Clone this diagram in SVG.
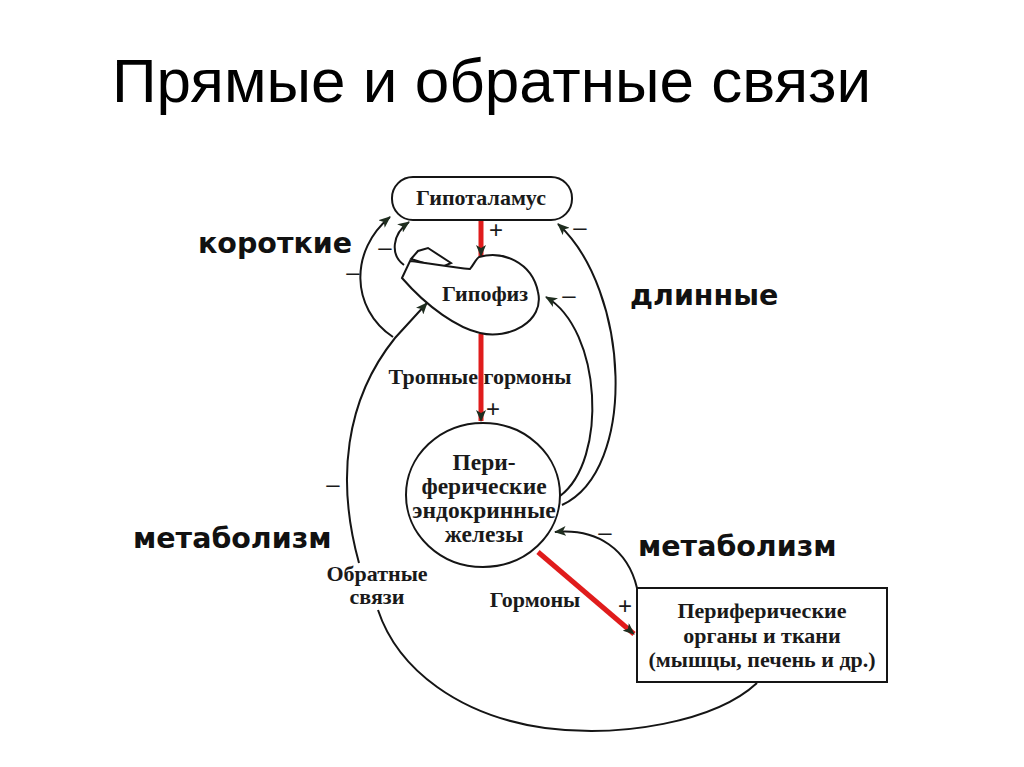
<svg xmlns="http://www.w3.org/2000/svg" width="1024" height="767" viewBox="0 0 1024 767">
<defs>
<marker id="ah" viewBox="0 0 12 10" refX="11" refY="5" markerWidth="12" markerHeight="10" markerUnits="userSpaceOnUse" orient="auto">
<path d="M0,0 L12,5 L0,10 L3,5 Z" fill="#1f2d1f"/>
</marker>
<style>
.title{font-family:"Liberation Sans",Arial,sans-serif;font-size:62px;fill:#000}
.lbl{font-family:"DejaVu Sans",Verdana,sans-serif;font-weight:bold;font-size:28.5px;fill:#111}
.node{font-family:"Liberation Serif","Times New Roman",serif;font-weight:bold;font-size:22px;fill:#1a1a1a;text-anchor:middle}
.big{font-size:23.5px}
.sign{font-family:"Liberation Sans",Arial,sans-serif;font-size:24px;fill:#1a1a1a;text-anchor:middle}
.ln{fill:none;stroke:#151515;stroke-width:2}
.red{fill:none;stroke:#e01c1c;stroke-width:5}
.shape{fill:#fff;stroke:#151515;stroke-width:2}
</style>
</defs>
<rect width="1024" height="767" fill="#fff"/>
<text class="title" x="112" y="102">Прямые и обратные связи</text>

<g id="connectors">
<path class="red" d="M481,221 L481,256" marker-end="url(#ah)"/>
<path class="red" d="M481,334 L481,421" marker-end="url(#ah)"/>
<path class="red" d="M538,552 L634,634" marker-end="url(#ah)"/>
<path class="ln" d="M404,265 C390,255 392,234 409,222" marker-end="url(#ah)"/>
<path class="ln" d="M393,337 C350,308 350,250 390,217" marker-end="url(#ah)"/>
<path class="ln" d="M562,505 C638,470 630,290 558,224" marker-end="url(#ah)"/>
<path class="ln" d="M560,496 C608,460 602,330 546,297" marker-end="url(#ah)"/>
<path class="ln" d="M637,588 C628,550 598,528 555,532" marker-end="url(#ah)"/>
<path class="ln" d="M757,683 C715,722 620,738 545,728 C460,716 398,670 378,610"/>
<path class="ln" d="M359,563 C336,480 345,400 395,338 L427,303" marker-end="url(#ah)"/>
</g>

<g id="signs">
<text class="sign" x="496" y="238">+</text>
<text class="sign" x="493" y="417">+</text>
<text class="sign" x="625" y="614">+</text>
<text class="sign" x="385" y="255">–</text>
<text class="sign" x="353" y="280">–</text>
<text class="sign" x="580" y="235">–</text>
<text class="sign" x="569" y="303">–</text>
<text class="sign" x="333" y="492">–</text>
<text class="sign" x="605" y="540">–</text>
</g>

<g id="hypothalamus">
<rect class="shape" x="392" y="177" width="180" height="43" rx="21"/>
<text class="node" x="481" y="205">Гипоталамус</text>
</g>

<g id="hypophysis">
<path class="shape" d="M411,259 L418,251 L428,248 L451,263 L440,268 Z"/>
<path class="shape" d="M402,278 L410,261 C430,263 452,268 470,269 C474,264 476,259 479,257 C502,250 532,262 538,292 C545,322 508,340 480,333 C458,328 428,308 402,278 Z"/>
<text class="node" x="485" y="301">Гипофиз</text>
</g>

<g id="tropic-label">
<text class="node" x="480" y="384">Тропные гормоны</text>
</g>

<g id="glands">
<ellipse class="shape" cx="483" cy="495" rx="77" ry="72"/>
<text class="node big" x="484" y="470">Пери-</text>
<text class="node big" x="484" y="494">ферические</text>
<text class="node big" x="484" y="518">эндокринные</text>
<text class="node big" x="484" y="542">железы</text>
</g>

<g id="organs">
<rect class="shape" x="637" y="588" width="250" height="94"/>
<text class="node" x="762" y="618">Периферические</text>
<text class="node" x="762" y="643">органы и ткани</text>
<text class="node" x="762" y="667">(мышцы, печень и др.)</text>
</g>

<g id="labels">
<text class="lbl" x="198" y="253">короткие</text>
<text class="lbl" x="630" y="305">длинные</text>
<text class="lbl" x="133" y="548">метаболизм</text>
<text class="lbl" x="638" y="556">метаболизм</text>
<text class="node" x="377" y="581">Обратные</text>
<text class="node" x="377" y="604">связи</text>
<text class="node" x="535" y="607">Гормоны</text>
</g>
</svg>
